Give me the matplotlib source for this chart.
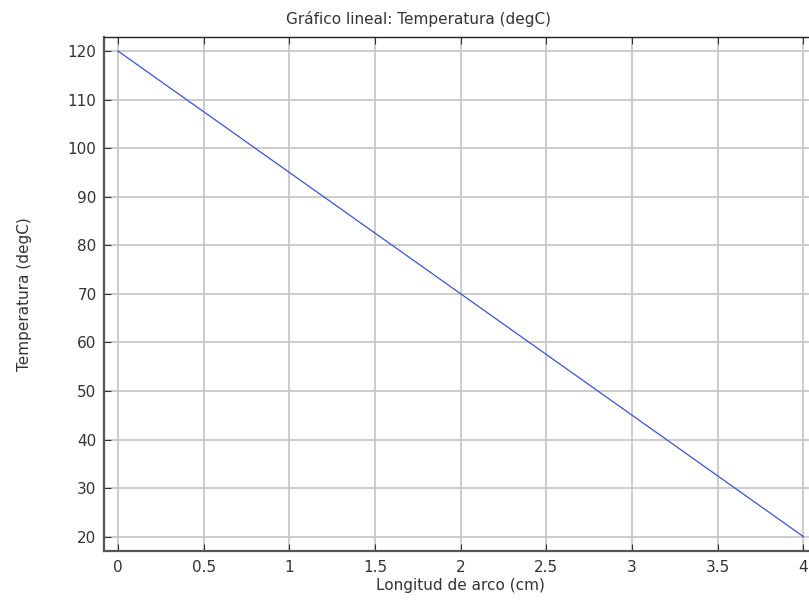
import matplotlib.pyplot as plt
import numpy as np

# Arc length along the cut line (cm) and temperature (degC)
arc_length = [0.0, 4.0]
temperature = [120.0, 20.0]

xticks = [0, 0.5, 1, 1.5, 2, 2.5, 3, 3.5, 4]
xticklabels = ["0", "0.5", "1", "1.5", "2", "2.5", "3", "3.5", "4"]
yticks = [20, 30, 40, 50, 60, 70, 80, 90, 100, 110, 120]

plt.rcParams['font.family'] = 'DejaVu Sans'
plt.rcParams['font.size'] = 11

W, H = 809, 603
fig = plt.figure(figsize=(W / 100, H / 100), dpi=100)
# axes runs a little past the right border of the figure
ax = fig.add_axes([103.5 / W, 1 - 550.7 / H, (818 - 103.5) / W, (550.7 - 37) / H])

ax.plot(arc_length, temperature, color="#3a55c8", lw=0.9)

ax.set_xlim(-0.085, 4.085)
ax.set_ylim(17.1, 122.9)
ax.set_xticks(xticks)
ax.set_xticklabels(xticklabels)
ax.set_yticks(yticks)

ax.grid(True, color="#c8c8c8", lw=1.3)
ax.set_axisbelow(True)

ax.tick_params(axis="both", direction="in", length=5, width=0.8, color="#333333",
               labelcolor="#333333", top=True)
ax.tick_params(axis="y", pad=5)
ax.tick_params(axis="x", pad=7)
for side in ("left", "bottom"):
    ax.spines[side].set_color("#555555")
    ax.spines[side].set_linewidth(1.6)
ax.spines["top"].set_color("#222222")
ax.spines["top"].set_linewidth(1.0)

ax.set_xlabel("Longitud de arco (cm)", color="#333333", labelpad=2)
ax.set_ylabel("Temperatura (degC)", color="#333333", labelpad=26)
fig.text(418 / W, 1 - 24 / H, "Gráfico lineal: Temperatura (degC)", color="#333333",
         fontsize=11, ha="center", va="baseline")

fig.savefig("out.png", dpi=100)
